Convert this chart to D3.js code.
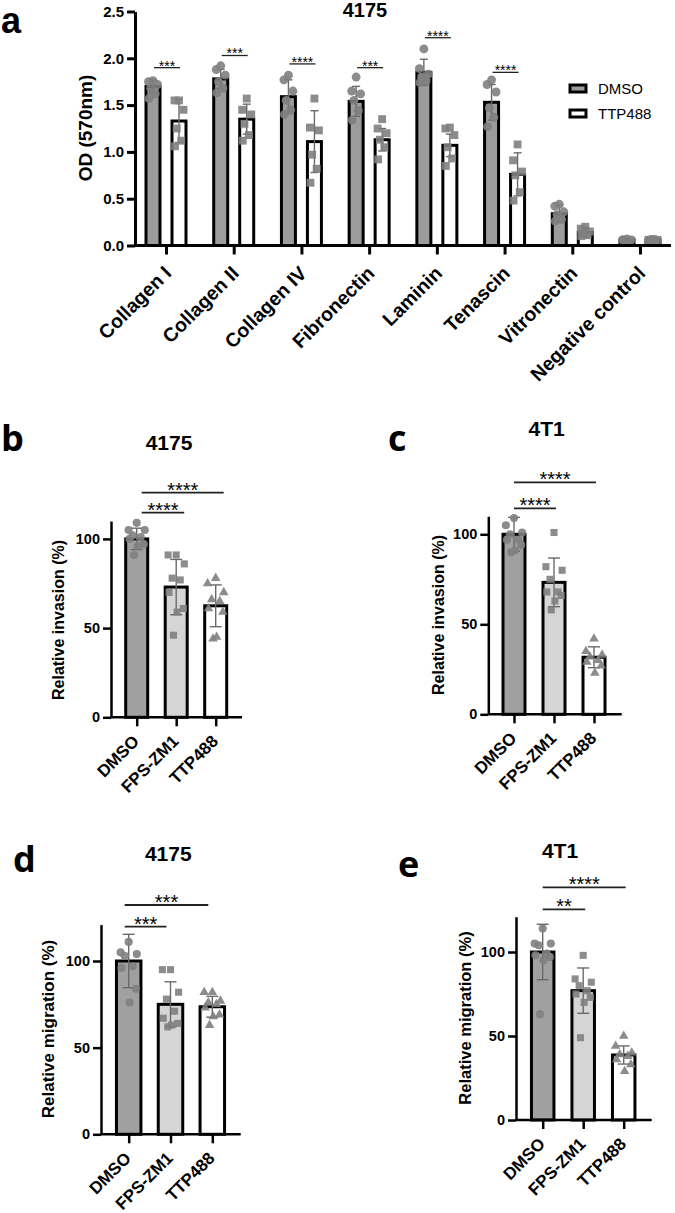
<!DOCTYPE html>
<html><head><meta charset="utf-8">
<script src="https://cdn.jsdelivr.net/npm/d3@7"></script>
<style>
body{margin:0;background:#fff}
svg{display:block}
text{font-family:"Liberation Sans",Arial,sans-serif;fill:#000}
</style>
</head><body>
<svg id="fig" width="675" height="1213"></svg>
<script>
// ---------- Panel a data ----------
const ecmCategories = ["Collagen I","Collagen II","Collagen IV","Fibronectin","Laminin","Tenascin","Vitronectin","Negative control"];
const ecmSeries = ["DMSO","TTP488"];
const ecmYTicks = [0,0.5,1.0,1.5,2.0,2.5];
const dmsoMean = [1.70,1.78,1.59,1.54,1.85,1.53,0.34,0.06];
const dmsoSD   = [0.07,0.10,0.18,0.16,0.14,0.19,0.09,0.01];
const ttpMean  = [1.33,1.35,1.11,1.13,1.07,0.76,0.14,0.06];
const ttpSD    = [0.23,0.16,0.33,0.12,0.12,0.23,0.05,0.01];
const dmsoPoints = [
  [1.76,1.75,1.72,1.68,1.62,1.57],
  [1.92,1.88,1.82,1.75,1.68,1.63],
  [1.82,1.77,1.65,1.55,1.45,1.40],
  [1.80,1.65,1.62,1.55,1.44,1.34],
  [2.10,1.89,1.83,1.80,1.76,1.74],
  [1.77,1.72,1.64,1.47,1.37,1.27],
  [0.44,0.42,0.36,0.33,0.28,0.26],
  [0.07,0.06,0.06,0.05,0.05,0.06]
];
const ttpPoints = [
  [1.55,1.55,1.45,1.25,1.12,1.06],
  [1.57,1.45,1.40,1.30,1.18,1.12],
  [1.57,1.26,1.23,0.97,0.82,0.67],
  [1.35,1.25,1.20,1.13,1.05,0.92],
  [1.26,1.25,1.18,1.05,0.93,0.85],
  [1.08,0.91,0.79,0.75,0.57,0.48],
  [0.20,0.18,0.15,0.13,0.11,0.10],
  [0.07,0.06,0.06,0.05,0.05,0.06]
];
const ecmStars = ["***","***","****","***","****","****"];
const ecmSigLevel = [1.90,2.03,1.94,1.90,2.22,1.85];

// ---------- Panels b-e data ----------
const treatGroups = ["DMSO","FPS-ZM1","TTP488"];
const pctTicks = [0,50,100];

const inv4175Mean = [100,73.0,62.5];
const inv4175SD   = [6.0,15.5,11.7];
const inv4175Points = [
  [109,105,105,102,101,100,97,96,91],
  [91,91,86,78,77,70,61,59,46],
  [78,75,70,66,65,61,59,45,44]
];
const inv4175Stars = ["****","****"];
const inv4175SigLevel = [114.7,125.9];

const inv4T1Mean = [100,73.3,31.7];
const inv4T1SD   = [9.4,13.5,5.8];
const inv4T1Points = [
  [109,105,101,100,97,97,94,91,90],
  [101,82,80,75,68,68,66,63,58],
  [42,35,33,32,30,29,27,23]
];
const inv4T1Stars = ["****","****"];
const inv4T1SigLevel = [114.4,128.9];

const mig4175Mean = [100,75.0,73.6];
const mig4175SD   = [15.4,13.0,6.0];
const mig4175Points = [
  [111,105,104,103,97,96,84,76],
  [95,95,82,78,71,67,64,63,62],
  [82,82,77,76,75,73,69,68,63]
];
const mig4175Stars = ["***","***"];
const mig4175SigLevel = [119.8,132.3];

const mig4T1Mean = [100,77.0,38.7];
const mig4T1SD   = [16.5,13.5,5.4];
const mig4T1Points = [
  [114,105,105,104,99,98,97,95,63],
  [98,84,82,80,77,75,73,70,49],
  [50,44,40,39,38,36,33,29]
];
const mig4T1Stars = ["**","****"];
const mig4T1SigLevel = [125.4,138.5];

const sigPairs = [[0,1],[0,2]];

// ---------- helpers ----------
const svg = d3.select("#fig");
const jitterPattern = [0,-0.9,0.9,-0.45,0.45,-0.8,0.8,0.1,-0.3,0.3];
const pointColor = "#7f7f7f";
const errColor = "#6a6a6a";

function styleAxis(g, w, fs){
  g.select(".domain").attr("stroke","#000").attr("stroke-width",w);
  g.selectAll(".tick line").attr("stroke","#000").attr("stroke-width",w);
  g.selectAll(".tick text").style("font-size",fs+"px").style("font-weight","bold").attr("fill","#000");
}

// ---------- Panel a ----------
(function(){
  const g = svg.append("g");
  const x = d3.scalePoint().domain(ecmCategories).range([166,640]);
  const off = d3.scaleOrdinal().domain(ecmSeries).range([-13,13]);
  const y = d3.scaleLinear().domain([0,2.5]).range([245.5,11.5]);
  const fills = {DMSO:"#9c9c9c", TTP488:"#ffffff"};
  const barW = 14;

  const rows = [];
  ecmCategories.forEach((c,i)=>{
    rows.push({c, s:"DMSO", m:dmsoMean[i], sd:dmsoSD[i], pts:dmsoPoints[i]});
    rows.push({c, s:"TTP488", m:ttpMean[i], sd:ttpSD[i], pts:ttpPoints[i]});
  });
  g.selectAll("rect.bar").data(rows).join("rect")
    .attr("x", d=>x(d.c)+off(d.s)-barW/2)
    .attr("y", d=>y(d.m))
    .attr("width", barW)
    .attr("height", d=>y(0)-y(d.m))
    .attr("fill", d=>fills[d.s]).attr("stroke","#000").attr("stroke-width",3);

  rows.forEach(d=>{
    const cx = x(d.c)+off(d.s);
    g.append("line").attr("x1",cx).attr("x2",cx).attr("y1",y(d.m-d.sd)).attr("y2",y(d.m+d.sd))
      .attr("stroke",errColor).attr("stroke-width",1.4);
    [d.m-d.sd,d.m+d.sd].forEach(v=>g.append("line").attr("x1",cx-4).attr("x2",cx+4).attr("y1",y(v)).attr("y2",y(v))
      .attr("stroke",errColor).attr("stroke-width",1.4));
  });

  rows.forEach(d=>{
    const cx = x(d.c)+off(d.s);
    const sym = d3.symbol().type(d.s==="DMSO"?d3.symbolCircle:d3.symbolSquare).size(62);
    d.pts.forEach((v,i)=>{
      g.append("path").attr("d",sym()).attr("transform",`translate(${cx+jitterPattern[i%10]*5},${y(v)})`)
        .attr("fill",pointColor).attr("opacity",0.9);
    });
  });

  const ya = g.append("g").attr("transform","translate(135,0)")
    .call(d3.axisLeft(y).tickValues(ecmYTicks).tickFormat(d3.format(".1f")).tickSize(8).tickSizeOuter(0).tickPadding(3));
  styleAxis(ya,3,15);
  g.append("line").attr("x1",135).attr("x2",671).attr("y1",y(0)).attr("y2",y(0)).attr("stroke","#000").attr("stroke-width",3);
  const xa = g.append("g").attr("transform",`translate(0,${y(0)})`)
    .call(d3.axisBottom(x).tickSize(9).tickSizeOuter(0));
  xa.select(".domain").remove();
  xa.selectAll(".tick line").attr("stroke","#000").attr("stroke-width",3);
  xa.selectAll(".tick text").attr("x",0).attr("y",0).attr("dy",0)
    .attr("transform","translate(6,29) rotate(-45)")
    .style("text-anchor","end").style("font-size","19.5px").style("font-weight","bold");

  ecmStars.forEach((s,i)=>{
    const c = ecmCategories[i];
    const x1 = x(c)+off("DMSO")+1, x2 = x(c)+off("TTP488")+1;
    g.append("line").attr("x1",x1).attr("x2",x2).attr("y1",y(ecmSigLevel[i])).attr("y2",y(ecmSigLevel[i]))
      .attr("stroke","#222").attr("stroke-width",1.3);
    g.append("text").attr("x",(x1+x2)/2).attr("y",y(ecmSigLevel[i])+3).attr("text-anchor","middle")
      .style("font-size","14px").text(s);
  });

  g.append("text").attr("x",365).attr("y",17).attr("text-anchor","middle").style("font-size","20px").style("font-weight","bold").text("4175");
  g.append("text").attr("transform","translate(92,128) rotate(-90)").attr("text-anchor","middle")
    .style("font-size","19px").style("font-weight","bold").text("OD (570nm)");
  g.append("text").attr("x",1).attr("y",33).style("font-size","36px").style("font-weight","bold").text("a");

  const leg = g.append("g");
  ecmSeries.forEach((s,i)=>{
    leg.append("rect").attr("x",570).attr("y",85+i*25).attr("width",16).attr("height",7)
      .attr("fill",fills[s]).attr("stroke","#000").attr("stroke-width",3);
    leg.append("text").attr("x",598).attr("y",94+i*25).style("font-size","15px").text(s);
  });
})();

// ---------- Panels b-e ----------
function dotPanel(o){
  const g = svg.append("g");
  const x = d3.scalePoint().domain(treatGroups).range(o.xr);
  const y = d3.scaleLinear().domain([0,o.top]).range([o.y0, o.y0 - o.top*o.ppu]);
  const fills = ["#a0a0a0","#d5d5d5","#ffffff"];
  const syms = [d3.symbolCircle, d3.symbolSquare, d3.symbolTriangle];
  const sizes = [52,50,40];
  const bw = o.bw;
  treatGroups.forEach((grp,i)=>{
    g.append("rect").attr("x",x(grp)-bw/2).attr("y",y(o.mean[i])).attr("width",bw).attr("height",y(0)-y(o.mean[i]))
      .attr("fill",fills[i]).attr("stroke","#000").attr("stroke-width",3);
  });
  treatGroups.forEach((grp,i)=>{
    const cx = x(grp), lo=o.mean[i]-o.sd[i], hi=o.mean[i]+o.sd[i];
    g.append("line").attr("x1",cx).attr("x2",cx).attr("y1",y(lo)).attr("y2",y(hi)).attr("stroke",errColor).attr("stroke-width",1.4);
    [lo,hi].forEach(v=>g.append("line").attr("x1",cx-6).attr("x2",cx+6).attr("y1",y(v)).attr("y2",y(v)).attr("stroke",errColor).attr("stroke-width",1.4));
  });
  treatGroups.forEach((grp,i)=>{
    const sym = d3.symbol().type(syms[i]).size(sizes[i]);
    o.pts[i].forEach((v,k)=>{
      g.append("path").attr("d",sym()).attr("transform",`translate(${x(grp)+jitterPattern[k%10]*9},${y(v)})`)
        .attr("fill",pointColor).attr("opacity",0.9);
    });
  });
  const ya = g.append("g").attr("transform",`translate(${o.ax},0)`)
    .call(d3.axisLeft(y).tickValues(pctTicks).tickSize(8).tickSizeOuter(0).tickPadding(3));
  styleAxis(ya,2.5,14.5);
  g.append("line").attr("x1",o.ax).attr("x2",o.xEnd).attr("y1",y(0)).attr("y2",y(0)).attr("stroke","#000").attr("stroke-width",2.5);
  const xa = g.append("g").attr("transform",`translate(0,${y(0)})`).call(d3.axisBottom(x).tickSize(9).tickSizeOuter(0));
  xa.select(".domain").remove();
  xa.selectAll(".tick line").attr("stroke","#000").attr("stroke-width",2.5);
  xa.selectAll(".tick text").attr("x",0).attr("y",0).attr("dy",0)
    .attr("transform","translate(3,25) rotate(-45)")
    .style("text-anchor","end").style("font-size","17px").style("font-weight","bold");
  sigPairs.forEach((p,i)=>{
    const x1 = x(treatGroups[p[0]])+o.sh[0], x2 = x(treatGroups[p[1]])+o.sh[1];
    const yy = y(o.sig[i]);
    g.append("line").attr("x1",x1).attr("x2",x2).attr("y1",yy).attr("y2",yy).attr("stroke","#222").attr("stroke-width",1.8);
    g.append("text").attr("x",(x1+x2)/2).attr("y",yy+4).attr("text-anchor","middle").style("font-size","20px").text(o.stars[i]);
  });
  g.append("text").attr("x",o.title[0]).attr("y",o.title[1]).attr("text-anchor","middle")
    .style("font-size","21px").style("font-weight","bold").text(o.titleText);
  g.append("text").attr("transform",`translate(${o.yl[0]},${o.yl[1]}) rotate(-90)`).attr("text-anchor","middle")
    .style("font-size",o.ylSize+"px").style("font-weight","bold").text(o.ylText);
  g.append("text").attr("x",o.lab[0]).attr("y",o.lab[1]).style("font-family","'Open Sans',sans-serif")
    .style("font-size","36px").style("font-weight","bold").text(o.labText);
}

dotPanel({mean:inv4175Mean, sd:inv4175SD, pts:inv4175Points, stars:inv4175Stars, sig:inv4175SigLevel,
  xr:[136.7,215.7], ax:111, xEnd:242, y0:717.3, ppu:1.784, top:110, bw:22, sh:[5,8],
  title:[169,450], titleText:"4175", yl:[64,620], ylSize:16, ylText:"Relative invasion (%)", lab:[1,451], labText:"b"});
dotPanel({mean:inv4T1Mean, sd:inv4T1SD, pts:inv4T1Points, stars:inv4T1Stars, sig:inv4T1SigLevel,
  xr:[514,594], ax:488.3, xEnd:621.7, y0:714.3, ppu:1.8, top:110, bw:22, sh:[0,2],
  title:[546.7,436], titleText:"4T1", yl:[444,615], ylSize:16, ylText:"Relative invasion (%)", lab:[388,451], labText:"c"});
dotPanel({mean:mig4175Mean, sd:mig4175SD, pts:mig4175Points, stars:mig4175Stars, sig:mig4175SigLevel,
  xr:[128.7,212.3], ax:101, xEnd:240.7, y0:1134.3, ppu:1.733, top:121, bw:24.5, sh:[-4,-4],
  title:[168.3,861], titleText:"4175", yl:[54,1029], ylSize:17, ylText:"Relative migration (%)", lab:[13,872], labText:"d"});
dotPanel({mean:mig4T1Mean, sd:mig4T1SD, pts:mig4T1Points, stars:mig4T1Stars, sig:mig4T1SigLevel,
  xr:[542.7,623.7], ax:516, xEnd:651.7, y0:1120, ppu:1.68, top:121, bw:22.5, sh:[0,2],
  title:[560,857.5], titleText:"4T1", yl:[471,1018], ylSize:16.5, ylText:"Relative migration (%)", lab:[398,877], labText:"e"});
</script>
</body></html>
